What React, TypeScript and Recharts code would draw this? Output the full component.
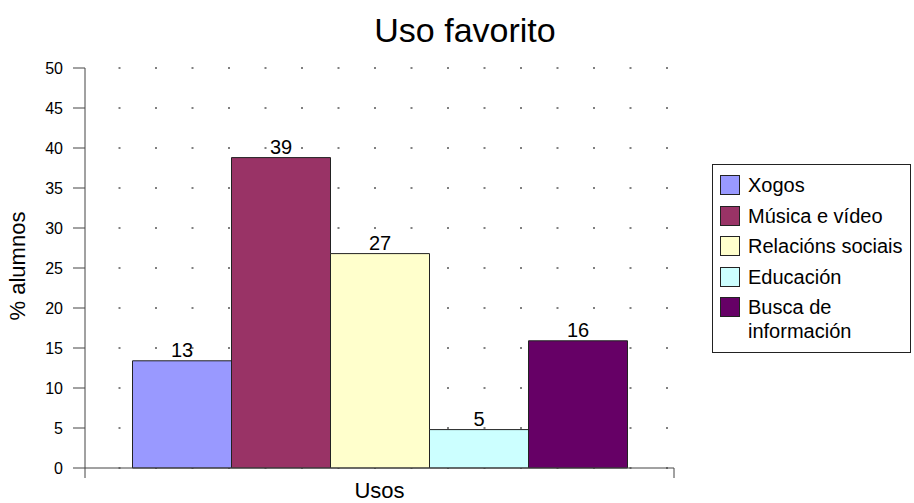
import { BarChart, Bar, XAxis, YAxis, CartesianGrid, Label, LabelList } from "recharts";

const categories = ["Usos"];
const seriesNames = ["Xogos", "Música e vídeo", "Relacións sociais", "Educación", "Busca de información"];
const seriesValues = [13.4, 38.8, 26.8, 4.8, 15.9];
const seriesColors = ["#9999FF", "#993366", "#FFFFCC", "#CCFFFF", "#660066"];
const yTicks = [0, 5, 10, 15, 20, 25, 30, 35, 40, 45, 50];

const data = categories.map((name) => {
  const row: Record<string, string | number> = { name };
  seriesValues.forEach((v, i) => {
    row[`s${i}`] = v;
  });
  return row;
});

const FONT = "'Liberation Sans', Arial, sans-serif";

function CategoryTick(props: any) {
  const { x, y, payload } = props;
  const half = payload?.offset ?? 294.5;
  return (
    <g>
      <line x1={x - half} x2={x - half} y1={y} y2={y + 10} stroke="#444" />
      <line x1={x + half} x2={x + half} y1={y} y2={y + 10} stroke="#444" />
      <text x={x} y={y + 29.5} textAnchor="middle" fontSize={22} fill="#000" fontFamily={FONT}>
        {payload.value}
      </text>
    </g>
  );
}

function YTitle() {
  return (
    <text
      x={25}
      y={266}
      transform="rotate(-90, 25, 266)"
      textAnchor="middle"
      fontSize={22}
      fill="#000"
      fontFamily={FONT}
    >
      % alumnos
    </text>
  );
}

export default function App() {
  return (
    <div style={{ position: "absolute", left: 0, top: 0, width: 914, height: 503, background: "#fff", fontFamily: FONT }}>
      <div
        style={{
          position: "absolute",
          left: 0,
          top: 13,
          width: 930,
          textAlign: "center",
          fontSize: 34,
          lineHeight: "34px",
          color: "#000",
        }}
      >
        Uso favorito
      </div>
      <BarChart
        width={914}
        height={503}
        data={data}
        margin={{ top: 68, right: 240, bottom: 0, left: 0 }}
        barCategoryGap={47.5}
        barGap={0}
      >
        <CartesianGrid horizontal vertical={false} stroke="#000" strokeDasharray="0 33.5 2 1" />
        <XAxis
          dataKey="name"
          height={35}
          tickSize={0}
          tickMargin={0}
          stroke="#444"
          tick={<CategoryTick />}
          interval={0}
        />
        <YAxis
          width={85}
          domain={[0, 50]}
          ticks={yTicks}
          interval={0}
          tickSize={12}
          tickMargin={10}
          stroke="#444"
          tick={{ fontSize: 16, fill: "#000", fontFamily: FONT }}
        >
          <Label content={<YTitle />} />
        </YAxis>
        {seriesNames.map((name, i) => (
          <Bar
            key={name}
            dataKey={`s${i}`}
            name={name}
            fill={seriesColors[i]}
            stroke="#222"
            strokeWidth={1}
            isAnimationActive={false}
          >
            <LabelList
              dataKey={`s${i}`}
              position="top"
              offset={4}
              formatter={(v: any) => Math.round(Number(v))}
              style={{ fontSize: 20, fill: "#000", fontFamily: FONT }}
            />
          </Bar>
        ))}
      </BarChart>
      <div
        style={{
          position: "absolute",
          left: 712,
          top: 164,
          width: 199,
          height: 189,
          border: "1px solid #222",
          boxSizing: "border-box",
          padding: "8px 4px 0 7px",
          fontSize: 20,
          lineHeight: "24px",
          color: "#000",
        }}
      >
        {seriesNames.map((name, i) => (
          <div key={name} style={{ display: "flex", alignItems: "flex-start", marginBottom: 6.5 }}>
            <span
              style={{
                display: "inline-block",
                width: 20,
                height: 20,
                marginTop: 2,
                background: seriesColors[i],
                border: "1px solid #222",
                boxSizing: "border-box",
                flex: "none",
              }}
            />
            <span style={{ marginLeft: 8, maxWidth: 160 }}>{name}</span>
          </div>
        ))}
      </div>
    </div>
  );
}
